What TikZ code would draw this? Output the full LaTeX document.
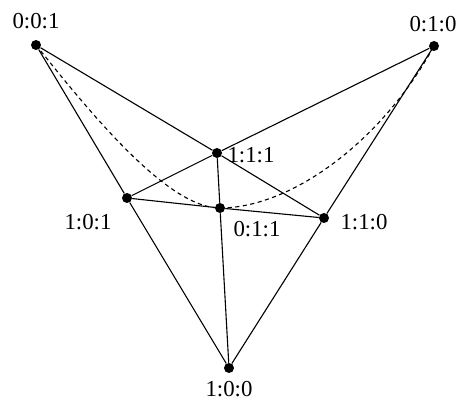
\documentclass[tikz,border=0pt]{standalone}
\usepackage{fontspec}
\setmainfont{Liberation Serif}

\begin{document}
\begin{tikzpicture}[x=1in,y=1in,
  pt/.style={circle, fill=black, inner sep=0pt, minimum size=0.1in},
  lbl/.style={inner sep=0pt, font=\fontsize{16.5}{18}\selectfont},
  ln/.style={line width=0.8pt},
  dsh/.style={line width=0.8pt, dash pattern=on 3pt off 2.5pt}]
\useasboundingbox (0,0) rectangle (4.6000,4.0200);
\node[pt] (p001) at (0.3600,3.5700) {};
\node[pt] (p010) at (4.3400,3.5600) {};
\node[pt] (p111) at (2.1700,2.4900) {};
\node[pt] (p101) at (1.2700,2.0400) {};
\node[pt] (p011) at (2.2000,1.9400) {};
\node[pt] (p110) at (3.2400,1.8400) {};
\node[pt] (p100) at (2.2900,0.3400) {};
\node[lbl] (t001) at (0.3600,3.8100) {0:0:1};
\node[lbl] (t010) at (4.3300,3.7800) {0:1:0};
\node[lbl] (t111) at (2.5100,2.4700) {1:1:1};
\node[lbl] (t101) at (0.8800,1.8000) {1:0:1};
\node[lbl] (t011) at (2.5700,1.7300) {0:1:1};
\node[lbl] (t110) at (3.6400,1.8000) {1:1:0};
\node[lbl] (t100) at (2.2900,0.1300) {1:0:0};
\draw[ln] (p001) -- (p101) -- (p100);
\draw[ln] (p010) -- (p110) -- (p100);
\draw[ln] (p001) -- (p111) -- (p110);
\draw[ln] (p010) -- (p111) -- (p101);
\draw[ln] (p101) -- (p011) -- (p110);
\draw[ln] (p111) -- (p011) -- (p100);
\draw[dsh] (p001.center) .. controls (0.9800,2.7900) and (1.7000,1.9400) .. (p011.center)
  .. controls (2.9000,1.9400) and (3.8100,2.5900) .. (p010.center);
\end{tikzpicture}
\end{document}
